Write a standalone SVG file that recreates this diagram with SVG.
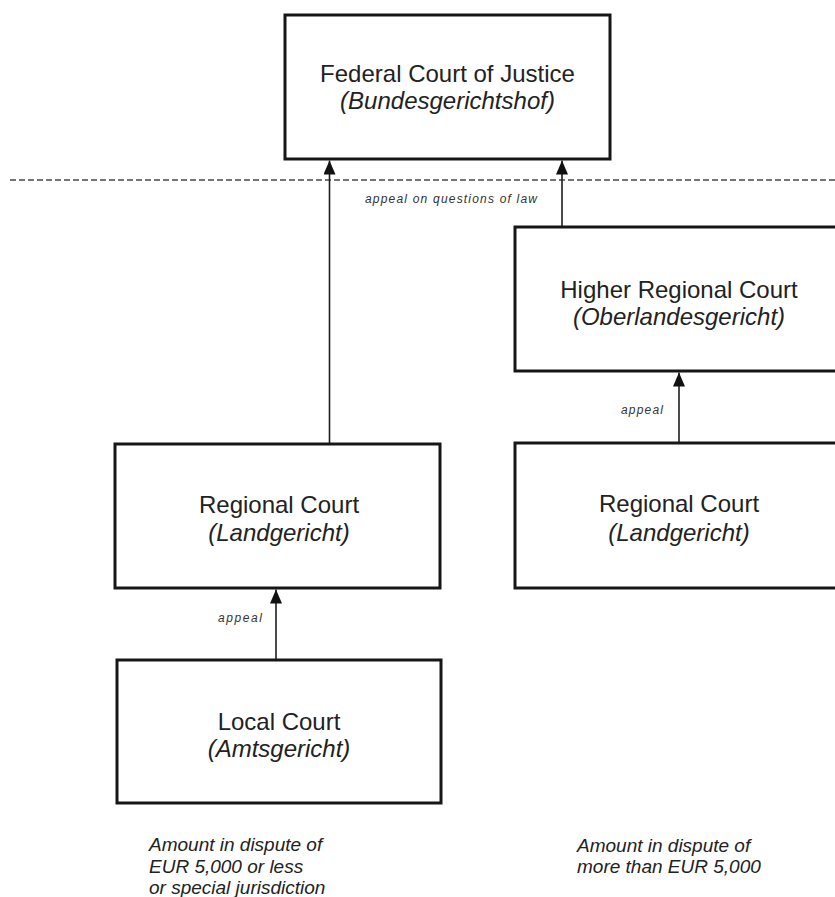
<svg xmlns="http://www.w3.org/2000/svg" width="835" height="897" viewBox="0 0 835 897">
  <style>
    .box { fill: #ffffff; stroke: #161616; stroke-width: 3; }
    .title { font-family: "Liberation Sans", Arial, sans-serif; font-size: 24px; fill: #222222; text-anchor: middle; }
    .sub { font-family: "Liberation Sans", Arial, sans-serif; font-size: 24px; font-style: italic; fill: #222222; text-anchor: middle; }
    .conn { stroke: #1e1e1e; stroke-width: 1.6; fill: none; }
    .label { font-family: "Liberation Sans", Arial, sans-serif; font-size: 12px; font-style: italic; fill: #333333; }
    .note { font-family: "Liberation Sans", Arial, sans-serif; font-size: 19px; font-style: italic; fill: #222222; }
    .divider { stroke: #4a4a4a; stroke-width: 1.4; stroke-dasharray: 6 3; fill: none; }
  </style>
  <defs>
    <marker id="arrow" viewBox="0 0 14 12" refX="14" refY="6" markerWidth="14" markerHeight="12" markerUnits="userSpaceOnUse" orient="auto">
      <path d="M0,0 L14,6 L0,12 z" fill="#111111"/>
    </marker>
  </defs>
  <rect x="0" y="0" width="835" height="897" fill="#ffffff"/>

  <line class="divider" x1="10" y1="180" x2="835" y2="180"/>

  <g id="connectors">
    <line class="conn" x1="329.5" y1="444" x2="329.5" y2="160.5" marker-end="url(#arrow)"/>
    <line class="conn" x1="562" y1="227" x2="562" y2="160.5" marker-end="url(#arrow)"/>
    <line class="conn" x1="276" y1="660" x2="276" y2="589.5" marker-end="url(#arrow)"/>
    <line class="conn" x1="679" y1="443" x2="679" y2="372.5" marker-end="url(#arrow)"/>
    <text class="label" x="365" y="203" textLength="172" lengthAdjust="spacing">appeal on questions of law</text>
    <text class="label" x="218" y="622" textLength="44" lengthAdjust="spacing">appeal</text>
    <text class="label" x="621" y="414" textLength="42" lengthAdjust="spacing">appeal</text>
  </g>

  <g id="federal-court">
    <rect class="box" x="285" y="15" width="325" height="144"/>
    <text class="title" x="447.5" y="82">Federal Court of Justice</text>
    <text class="sub" x="447.5" y="109">(Bundesgerichtshof)</text>
  </g>

  <g id="higher-regional-court">
    <rect class="box" x="515" y="227" width="335" height="144"/>
    <text class="title" x="679" y="298">Higher Regional Court</text>
    <text class="sub" x="679" y="325">(Oberlandesgericht)</text>
  </g>

  <g id="regional-court-left">
    <rect class="box" x="115" y="444" width="325" height="144"/>
    <text class="title" x="279" y="513">Regional Court</text>
    <text class="sub" x="279" y="541">(Landgericht)</text>
  </g>

  <g id="regional-court-right">
    <rect class="box" x="515" y="443" width="335" height="145"/>
    <text class="title" x="679" y="512">Regional Court</text>
    <text class="sub" x="679" y="541">(Landgericht)</text>
  </g>

  <g id="local-court">
    <rect class="box" x="117" y="660" width="324" height="143"/>
    <text class="title" x="279" y="730">Local Court</text>
    <text class="sub" x="279" y="757">(Amtsgericht)</text>
  </g>

  <g id="note-left">
    <text class="note" x="149" y="851">Amount in dispute of</text>
    <text class="note" x="149" y="873">EUR 5,000 or less</text>
    <text class="note" x="149" y="894">or special jurisdiction</text>
  </g>

  <g id="note-right">
    <text class="note" x="577" y="852">Amount in dispute of</text>
    <text class="note" x="577" y="873">more than EUR 5,000</text>
  </g>
</svg>
